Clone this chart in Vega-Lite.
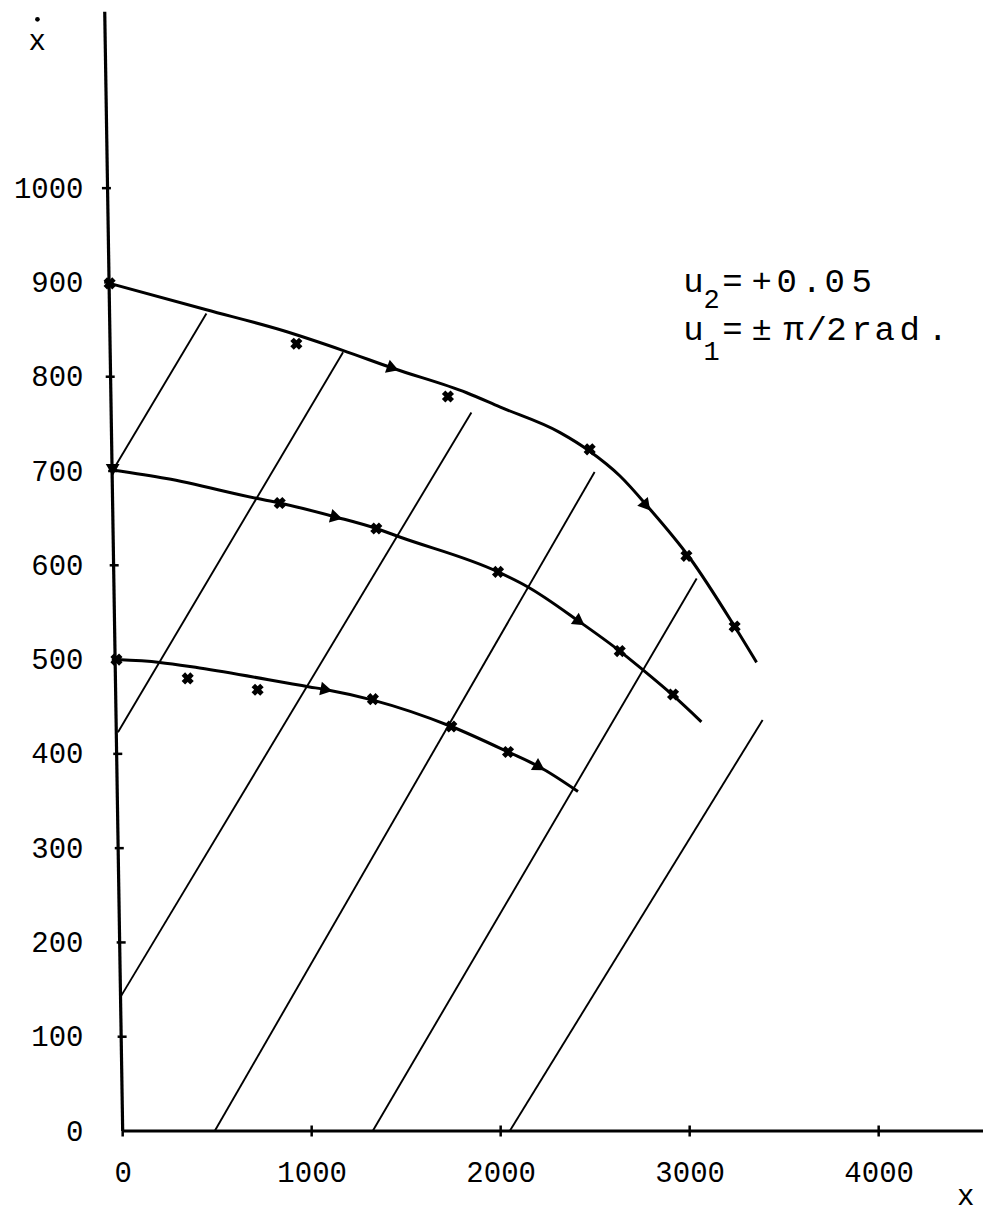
{
  "$schema": "https://vega.github.io/schema/vega-lite/v6.json",
  "width": 883,
  "height": 1122,
  "autosize": {"type": "none"},
  "padding": {"left": 100, "top": 9, "right": 1, "bottom": 83},
  "background": "white",
  "config": {"view": {"stroke": null}, "font": "Liberation Mono"},
  "datasets": {
    "axes": [
      {"part": "vertical", "x": -95, "y": 1187},
      {"part": "vertical", "x": 0, "y": 0},
      {"part": "horizontal", "x": 0, "y": 0},
      {"part": "horizontal", "x": 4552, "y": 0}
    ],
    "yticks": [
      {"x": -3, "y": 100}, {"x": -8, "y": 200}, {"x": -18, "y": 300}, {"x": -26, "y": 400},
      {"x": -34, "y": 500}, {"x": -45, "y": 600}, {"x": -53, "y": 700}, {"x": -66, "y": 800},
      {"x": -74, "y": 900}, {"x": -86, "y": 1000}
    ],
    "xticks": [
      {"x": 0, "y": 0}, {"x": 1000, "y": 0}, {"x": 2000, "y": 0}, {"x": 3000, "y": 0}, {"x": 4000, "y": 0}
    ],
    "trajectories": [
      {"start": 900, "x": -69, "y": 899},
      {"start": 900, "x": 443, "y": 871},
      {"start": 900, "x": 847, "y": 849},
      {"start": 900, "x": 1164, "y": 828},
      {"start": 900, "x": 1429, "y": 809},
      {"start": 900, "x": 1820, "y": 783},
      {"start": 900, "x": 1995, "y": 768},
      {"start": 900, "x": 2312, "y": 741},
      {"start": 900, "x": 2471, "y": 721},
      {"start": 900, "x": 2630, "y": 695},
      {"start": 900, "x": 2788, "y": 660},
      {"start": 900, "x": 3000, "y": 608},
      {"start": 900, "x": 3238, "y": 535},
      {"start": 900, "x": 3354, "y": 497},
      {"start": 700, "x": -53, "y": 701},
      {"start": 700, "x": 231, "y": 692},
      {"start": 700, "x": 707, "y": 671},
      {"start": 700, "x": 831, "y": 666},
      {"start": 700, "x": 1131, "y": 651},
      {"start": 700, "x": 1342, "y": 639},
      {"start": 700, "x": 1466, "y": 630},
      {"start": 700, "x": 1986, "y": 593},
      {"start": 700, "x": 2144, "y": 577},
      {"start": 700, "x": 2418, "y": 540},
      {"start": 700, "x": 2630, "y": 509},
      {"start": 700, "x": 2753, "y": 489},
      {"start": 700, "x": 2912, "y": 462},
      {"start": 700, "x": 3062, "y": 434},
      {"start": 500, "x": -33, "y": 500},
      {"start": 500, "x": 196, "y": 497},
      {"start": 500, "x": 407, "y": 491},
      {"start": 500, "x": 989, "y": 471},
      {"start": 500, "x": 1078, "y": 468},
      {"start": 500, "x": 1324, "y": 457},
      {"start": 500, "x": 1739, "y": 429},
      {"start": 500, "x": 2039, "y": 402},
      {"start": 500, "x": 2206, "y": 386},
      {"start": 500, "x": 2409, "y": 360}
    ],
    "switching": [
      {"line": 1, "x": -51, "y": 701}, {"line": 1, "x": 443, "y": 867},
      {"line": 2, "x": -25, "y": 423}, {"line": 2, "x": 1166, "y": 826},
      {"line": 3, "x": -12, "y": 142}, {"line": 3, "x": 1845, "y": 762},
      {"line": 4, "x": 487, "y": 0}, {"line": 4, "x": 2497, "y": 699},
      {"line": 5, "x": 1323, "y": 0}, {"line": 5, "x": 3037, "y": 586},
      {"line": 6, "x": 2048, "y": 0}, {"line": 6, "x": 3386, "y": 436}
    ],
    "crossings": [
      {"x": -69, "y": 899}, {"x": 919, "y": 835}, {"x": 1721, "y": 779},
      {"x": 2471, "y": 723}, {"x": 2983, "y": 610}, {"x": 3238, "y": 535},
      {"x": 831, "y": 666}, {"x": 1342, "y": 639}, {"x": 1986, "y": 593},
      {"x": 2630, "y": 509}, {"x": 2912, "y": 463},
      {"x": -33, "y": 500}, {"x": 344, "y": 480}, {"x": 714, "y": 468},
      {"x": 1324, "y": 458}, {"x": 1739, "y": 429}, {"x": 2039, "y": 402}
    ],
    "arrows": [
      {"x": 1430, "y": 809, "heading": 20},
      {"x": 2771, "y": 663, "heading": 50},
      {"x": -53, "y": 701, "heading": 90},
      {"x": 1131, "y": 651, "heading": 14},
      {"x": 2418, "y": 540, "heading": 35},
      {"x": 1078, "y": 468, "heading": 11},
      {"x": 2206, "y": 386, "heading": 31}
    ],
    "axisnames": [
      {"x": -452, "y": 1146, "text": "x"},
      {"x": 4460, "y": -79, "text": "x"}
    ],
    "note": [
      {"x": 3020, "y": 890, "text": "u"},
      {"x": 3227, "y": 890, "text": "="},
      {"x": 3381, "y": 890, "text": "+"},
      {"x": 3513, "y": 890, "text": "0"},
      {"x": 3646, "y": 890, "text": "."},
      {"x": 3767, "y": 890, "text": "0"},
      {"x": 3910, "y": 890, "text": "5"},
      {"x": 3020, "y": 839, "text": "u"},
      {"x": 3227, "y": 839, "text": "="},
      {"x": 3381, "y": 839, "text": "±"},
      {"x": 3550, "y": 839, "text": "π"},
      {"x": 3672, "y": 839, "text": "/"},
      {"x": 3777, "y": 839, "text": "2"},
      {"x": 3910, "y": 839, "text": "r"},
      {"x": 4032, "y": 839, "text": "a"},
      {"x": 4164, "y": 839, "text": "d"},
      {"x": 4312, "y": 839, "text": "."}
    ],
    "subscripts": [
      {"x": 3116, "y": 873, "text": "2"},
      {"x": 3116, "y": 818, "text": "1"}
    ],
    "dots": [
      {"x": -451, "y": 1179}
    ]
  },
  "encoding": {
    "x": {
      "field": "x", "type": "quantitative",
      "scale": {"domain": [-120, 4552], "nice": false, "zero": false},
      "axis": {
        "values": [0, 1000, 2000, 3000, 4000], "format": "d", "domain": false, "ticks": false, "grid": false,
        "title": null, "labelFont": "Liberation Mono", "labelFontSize": 29, "labelColor": "black",
        "labelPadding": 27, "labelFlush": false
      }
    },
    "y": {
      "field": "y", "type": "quantitative",
      "scale": {"domain": [0, 1190], "nice": false, "zero": false},
      "axis": {
        "values": [0, 100, 200, 300, 400, 500, 600, 700, 800, 900, 1000], "format": "d", "domain": false, "ticks": false,
        "grid": false, "title": null, "labelFont": "Liberation Mono", "labelFontSize": 29,
        "labelColor": "black", "labelPadding": 17
      }
    }
  },
  "layer": [
    {
      "data": {"name": "axes"},
      "mark": {"type": "line", "stroke": "black", "strokeWidth": 3.2, "clip": false},
      "encoding": {"detail": {"field": "part"}}
    },
    {
      "data": {"name": "yticks"},
      "mark": {"type": "tick", "orient": "horizontal", "color": "black", "size": 9, "thickness": 2.5, "opacity": 1, "clip": false}
    },
    {
      "data": {"name": "xticks"},
      "mark": {"type": "tick", "orient": "vertical", "color": "black", "size": 11, "thickness": 2.5, "opacity": 1, "clip": false}
    },
    {
      "data": {"name": "switching"},
      "mark": {"type": "line", "stroke": "black", "strokeWidth": 1.9, "clip": false},
      "encoding": {"detail": {"field": "line"}}
    },
    {
      "data": {"name": "trajectories"},
      "mark": {"type": "line", "stroke": "black", "strokeWidth": 3, "interpolate": "monotone", "clip": false},
      "encoding": {"detail": {"field": "start"}}
    },
    {
      "data": {"name": "crossings"},
      "mark": {"type": "point", "shape": "cross", "filled": true, "color": "black", "size": 150, "angle": 45, "opacity": 1, "clip": false}
    },
    {
      "data": {"name": "arrows"},
      "mark": {"type": "point", "shape": "triangle-right", "filled": true, "color": "black", "size": 190, "opacity": 1, "clip": false},
      "encoding": {"angle": {"field": "heading", "type": "quantitative", "scale": null}}
    },
    {
      "data": {"name": "axisnames"},
      "mark": {"type": "text", "align": "center", "baseline": "alphabetic", "font": "Liberation Mono", "fontSize": 29, "color": "black", "clip": false},
      "encoding": {"text": {"field": "text"}}
    },
    {
      "data": {"name": "note"},
      "mark": {"type": "text", "align": "center", "baseline": "alphabetic", "font": "Liberation Mono", "fontSize": 34, "color": "black", "clip": false},
      "encoding": {"text": {"field": "text"}}
    },
    {
      "data": {"name": "subscripts"},
      "mark": {"type": "text", "align": "center", "baseline": "alphabetic", "font": "Liberation Mono", "fontSize": 27, "color": "black", "clip": false},
      "encoding": {"text": {"field": "text"}}
    },
    {
      "data": {"name": "dots"},
      "mark": {"type": "point", "shape": "circle", "filled": true, "color": "black", "size": 22, "opacity": 1, "clip": false}
    }
  ]
}
